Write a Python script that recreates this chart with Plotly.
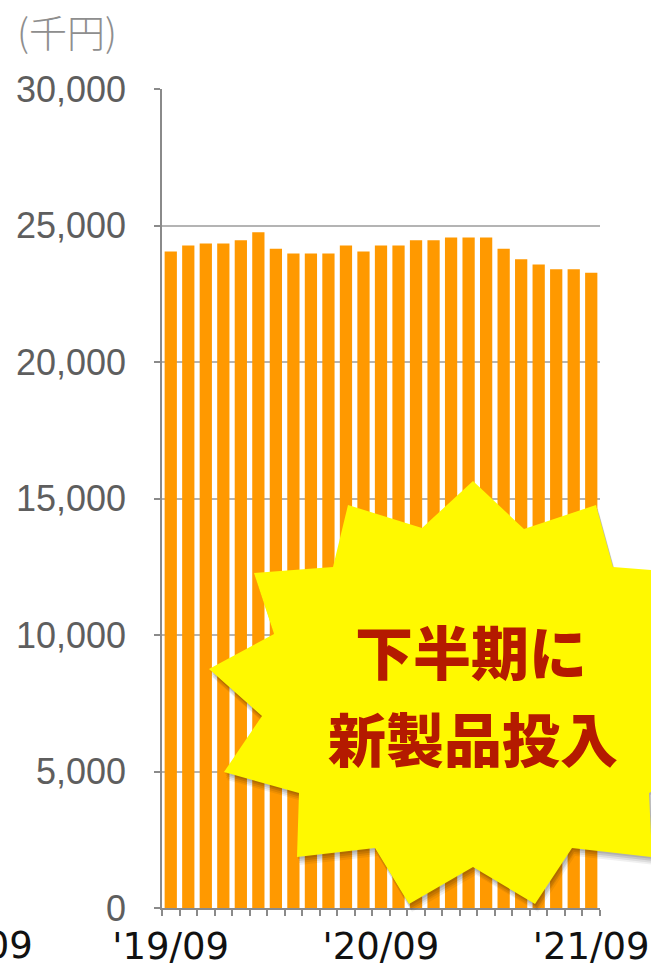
import plotly.graph_objects as go

# ---- data ----
months = ["2019/09", "2019/10", "2019/11", "2019/12", "2020/01", "2020/02", "2020/03",
          "2020/04", "2020/05", "2020/06", "2020/07", "2020/08", "2020/09", "2020/10",
          "2020/11", "2020/12", "2021/01", "2021/02", "2021/03", "2021/04", "2021/05",
          "2021/06", "2021/07", "2021/08", "2021/09"]
sales = [24050, 24270, 24340, 24340, 24460, 24750, 24150, 23970, 23970, 23970,
         24270, 24050, 24270, 24270, 24460, 24460, 24560, 24560, 24560, 24150,
         23760, 23570, 23400, 23400, 23270]
tick_labels = {"2019/09": "'19/09", "2020/09": "'20/09", "2021/09": "'21/09"}
y_ticks = [0, 5000, 10000, 15000, 20000, 25000, 30000]
unit_label = "(千円)"
callout_lines = ["下半期に", "新製品投入"]
neighbor_label = "'18/09"

# ---- layout geometry (pixels) ----
W, H = 651, 966
L, R, T, B = 162, 51, 89, 58
PW, PH = W - L - R, H - T - B


def px(x, y):
    return (x - L) / PW, (H - B - y) / PH


# callout starburst outline (pixel positions of the decoration)
star_px = [(473, 481), (524, 529), (596, 505), (613, 567), (705, 574), (660, 690),
           (705, 765), (649, 793), (652, 857), (572, 848), (535, 904), (473, 867),
           (409, 904), (375, 848), (297, 857), (299, 793), (224, 772), (262, 716),
           (209, 669), (274, 634), (254, 573), (333, 567), (348, 505), (422, 528)]


def star_path(dx=0, dy=0):
    pts = [px(x + dx, y + dy) for x, y in star_px]
    return "M " + " L ".join(f"{a:.5f},{b:.5f}" for a, b in pts) + " Z"


fig = go.Figure()
fig.add_trace(go.Bar(x=months, y=sales, marker=dict(color="#FF9900", line=dict(width=0)),
                     hoverinfo="skip"))

shapes = []
for dx, dy, a in [(1, 2, 0.10), (2, 4, 0.10), (2, 6, 0.08), (3, 8, 0.06)]:
    shapes.append(dict(type="path", xref="paper", yref="paper", path=star_path(dx, dy),
                       fillcolor=f"rgba(0,0,0,{a})", line=dict(width=0), layer="above"))
shapes.append(dict(type="path", xref="paper", yref="paper", path=star_path(),
                   fillcolor="#FFF900", line=dict(width=0), layer="above"))

cx1, cy1 = px(471, 650)
cx2, cy2 = px(473, 737)
ux, uy = px(67, 30)
nx, ny = px(35, 945)
annotations = [
    dict(text=callout_lines[0], x=cx1, y=cy1, xref="paper", yref="paper",
         showarrow=False, xanchor="center", yanchor="middle",
         font=dict(family="Noto Sans CJK JP", size=58, color="#B41A00", weight=900)),
    dict(text=callout_lines[1], x=cx2, y=cy2, xref="paper", yref="paper",
         showarrow=False, xanchor="center", yanchor="middle",
         font=dict(family="Noto Sans CJK JP", size=58, color="#B41A00", weight=900)),
    dict(text=unit_label, x=ux, y=uy, xref="paper", yref="paper",
         showarrow=False, xanchor="center", yanchor="middle",
         font=dict(family="Noto Sans CJK JP", size=38, color="#8e8e8e", weight=300)),
    dict(text=neighbor_label, x=nx, y=ny, xref="paper", yref="paper",
         showarrow=False, xanchor="right", yanchor="middle",
         font=dict(family="DejaVu Sans", size=37, color="#111111")),
]

fig.update_layout(
    width=W, height=H,
    margin=dict(l=L, r=R, t=T, b=B, pad=0, autoexpand=False),
    paper_bgcolor="white", plot_bgcolor="white",
    showlegend=False, bargap=0.3,
    shapes=shapes, annotations=annotations,
)
fig.update_xaxes(
    type="category", categoryorder="array", categoryarray=months,
    tickmode="array", tickvals=months,
    ticktext=[tick_labels.get(m, "") for m in months],
    tickson="boundaries", ticks="outside", ticklen=6, tickwidth=1.5, tickcolor="#8a8a8a",
    showline=True, linecolor="#8a8a8a", linewidth=1.5,
    showgrid=False, zeroline=False, tickangle=0, automargin=False,
    tickfont=dict(family="DejaVu Sans", size=37, color="#111111"),
    ticklabelstandoff=5,
)
fig.update_yaxes(
    range=[0, 30000], tickmode="array", tickvals=y_ticks, tickformat=",d",
    ticks="outside", ticklen=6, tickwidth=1.5, tickcolor="#8a8a8a",
    showline=True, linecolor="#8a8a8a", linewidth=1.5,
    showgrid=True, gridcolor="#b4b4b4", gridwidth=2, zeroline=False, automargin=False,
    tickfont=dict(family="Liberation Sans", size=36, color="#5e5e5e"),
    ticklabelstandoff=21,
)

fig.write_html("out.html", config={"displayModeBar": False},
               post_script="document.body.style.margin='0';document.body.style.overflow='hidden';")
